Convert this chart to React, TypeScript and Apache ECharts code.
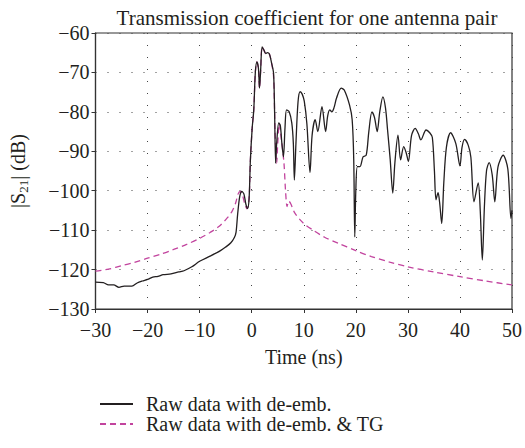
import React, { useEffect, useRef } from "react";
import * as echarts from "echarts";

const FONT = '"Liberation Serif", "DejaVu Serif", serif';
const INK = "#231F20";
const MAGENTA = "#C2449E";

const rawTime = [
  -30, -28.5, -27.5, -26.5, -25.5, -24.5, -23, -22, -21, -20, -19, -18, -17, -15.5, -14, -13, -11.5, -10,
  -8, -6, -5, -4, -3.3, -3.0, -2.7, -2.3, -1.9, -1.5, -1.1, -0.8, -0.5, -0.25, 0.1, 0.4, 0.7, 1.0, 1.3,
  1.5, 1.7, 2.0, 2.3, 2.7, 3.0, 3.4, 3.8, 4.2, 4.4, 4.6, 4.8, 5.2, 5.5, 5.8, 6.1, 6.4, 6.7, 7.2, 7.7, 8.0,
  8.2, 8.5, 8.9, 9.3, 9.7, 10.1, 10.6, 11.2, 11.6, 12.2, 12.7, 13.5, 14.2, 14.6, 15, 15.4, 15.8, 16.3,
  17.2, 17.8, 18.8, 19.3, 19.6, 19.8, 20.0, 20.3, 20.8, 21.4, 22, 22.5, 23.1, 23.6, 24.1, 24.6, 25.2,
  25.7, 26.1, 26.6, 27.1, 27.5, 28.1, 28.6, 29.2, 29.7, 30.1, 30.7, 31.4, 32, 32.5, 33.5, 34.2, 34.7,
  35.1, 35.4, 35.8, 36.1, 36.5, 36.9, 37.4, 38.2, 39.2, 40, 40.4, 40.9, 41.6, 42.1, 42.7, 43.5, 43.9,
  44.3, 44.7, 45.1, 45.6, 46.2, 46.7, 47.3, 48.3, 49.2, 49.8, 50,
];
const rawDb = [
  -123.2, -123.3, -123.9, -123.9, -124.5, -124.2, -124.2, -123.4, -122.9, -122.5, -121.9, -121.7, -121.3,
  -121.1, -120.6, -120.3, -119.3, -117.9, -116.6, -115.2, -114.3, -113.2, -111.8, -110.5, -106.0, -101.5,
  -100.2, -100.8, -103.5, -104.5, -102, -92.2, -84, -79.5, -70, -67.3, -69, -74, -70, -63.5, -64.2, -65.2,
  -65.0, -65.3, -67.5, -70.2, -80, -93, -88, -82.8, -83.5, -88, -91.4, -84, -79.5, -80, -82.8, -88, -97.3,
  -88, -77.5, -74.9, -75.5, -77.3, -83, -95.4, -86, -82, -85, -78.7, -85, -81, -79.5, -80, -79, -76.5,
  -74, -74.5, -78.3, -82, -92, -111.7, -100, -93.9, -93.9, -91.4, -91, -85, -80, -81.5, -85, -80, -76.2,
  -79, -84.6, -92, -100.6, -93, -85.9, -92.2, -88.8, -90.5, -92.6, -86, -84.2, -85.5, -87.1, -84.6,
  -85.3, -86.5, -95, -102.3, -100.5, -103, -108.3, -98, -89, -85.3, -88, -93.7, -89, -87, -88.5, -91.5,
  -102.8, -98, -105, -117.6, -104, -95, -92.9, -96, -102.8, -94, -91, -94.5, -107, -105,
];

const tgTime = [
  -30, -27.5, -25, -22.5, -20, -17.5, -15, -12.5, -10, -8, -6.3, -4.7, -3.8, -3.1, -2.6, -2.2, -1.8, -1.3,
  -0.9, -0.5, -0.25, 0.1, 0.4, 0.7, 1.0, 1.3, 1.5, 1.7, 2.0, 2.3, 2.7, 3.0, 3.4, 3.8, 4.2, 4.5, 4.8, 5.0,
  5.3, 5.7, 6.2, 6.5, 6.8, 7.1, 7.5, 8.3, 9.9, 11.8, 14, 16.6, 20, 23, 26.5, 30, 35, 40, 45, 50,
];
const tgDb = [
  -120.4, -119.9, -119.0, -118.2, -117.1, -116.1, -114.9, -113.6, -112.1, -110.6, -109.1, -106.9, -105.3,
  -103.2, -100.8, -100.2, -101, -103.5, -104.6, -102, -92.2, -84, -79.5, -70, -67.3, -69, -74, -70, -63.5,
  -64.2, -65.2, -65.0, -65.3, -67.5, -71, -85, -93, -88, -83, -87, -93, -100, -104, -102.6, -103.3,
  -105.7, -108.2, -110, -111.8, -113.3, -115.2, -116.7, -118.1, -119.3, -120.6, -121.8, -122.9, -123.9,
];

const seriesNames = ["Raw data with de-emb.", "Raw data with de-emb. & TG"];
const titleText = "Transmission coefficient for one antenna pair";
const xName = "Time (ns)";

const fmt = (v: number) => (v < 0 ? "\u2212" + Math.abs(v) : String(v));

export default function App() {
  const ref = useRef<HTMLDivElement>(null);
  useEffect(() => {
    if (!ref.current) return;
    const chart = echarts.init(ref.current, undefined, { renderer: "svg" });
    const rawData = rawTime.map((t, i) => [t, rawDb[i]]);
    const tgData = tgTime.map((t, i) => [t, tgDb[i]]);
    const labelStyle = { fontFamily: FONT, fontSize: 20, color: INK };
    chart.setOption({
      animation: false,
      backgroundColor: "#fff",
      title: {
        text: titleText,
        left: 302,
        textAlign: "center",
        top: 2,
        textStyle: { fontFamily: FONT, fontSize: 21, fontWeight: "normal", color: INK },
      },
      grid: {
        left: 95,
        right: 10,
        top: 33,
        bottom: 139,
        show: true,
        borderColor: "#333",
        borderWidth: 1.2,
        backgroundColor: "transparent",
      },
      legend: {
        orient: "vertical",
        left: 94,
        top: 389,
        itemWidth: 33,
        itemHeight: 10,
        itemGap: 0,
        itemStyle: { color: "rgba(0,0,0,0)", borderWidth: 0, opacity: 0 },
        textStyle: { ...labelStyle, padding: [0, 0, 0, 8] },
        data: seriesNames,
      },
      xAxis: {
        type: "value",
        min: -30,
        max: 50,
        interval: 10,
        name: xName,
        nameLocation: "middle",
        nameGap: 38,
        nameTextStyle: labelStyle,
        axisLine: { onZero: false, lineStyle: { color: "#333", width: 1.2 } },
        axisTick: { show: true, length: 4, lineStyle: { color: "#333" } },
        axisLabel: { ...labelStyle, margin: 11, formatter: fmt },
        splitLine: { show: true, lineStyle: { color: "#444", type: [1, 11], width: 1 } },
      },
      yAxis: {
        type: "value",
        min: -130,
        max: -60,
        interval: 10,
        name: "|S{sub|21}| (dB)",
        nameLocation: "middle",
        nameRotate: 90,
        nameGap: 66,
        nameTextStyle: {
          ...labelStyle,
          rich: { sub: { fontFamily: FONT, fontSize: 13, color: INK, padding: [10, 0, 0, 0] } },
        },
        axisLine: { show: true, onZero: false, lineStyle: { color: "#333", width: 1.2 } },
        axisTick: { show: true, length: 4, lineStyle: { color: "#333" } },
        axisLabel: { ...labelStyle, margin: 6, formatter: fmt },
        splitLine: { show: true, lineStyle: { color: "#444", type: [1, 11], width: 1 } },
      },
      series: [
        {
          name: seriesNames[0],
          type: "line",
          data: rawData,
          symbol: "none",
          smooth: 0.3,
          lineStyle: { color: INK, width: 1.3 },
          itemStyle: { color: INK },
          z: 3,
        },
        {
          name: seriesNames[1],
          type: "line",
          data: tgData,
          symbol: "none",
          smooth: 0.3,
          lineStyle: { color: MAGENTA, width: 1.3, type: [6, 4] },
          itemStyle: { color: MAGENTA },
          z: 2,
        },
      ],
    });
    return () => chart.dispose();
  }, []);
  return (
    <div
      ref={ref}
      style={{ position: "fixed", left: 0, top: 0, width: 525, height: 448, background: "#fff" }}
    />
  );
}
